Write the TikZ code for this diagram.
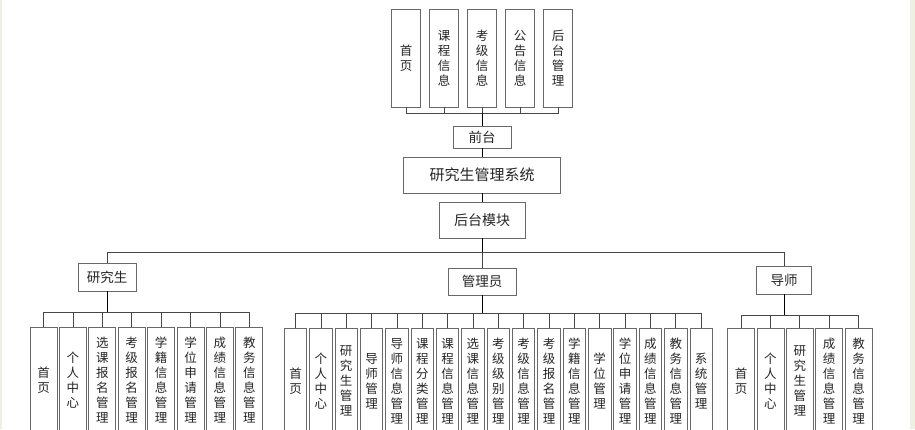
\documentclass[tikz,border=0pt]{standalone}
\usepackage{fontspec}
\setmainfont{Noto Sans CJK SC}
\usepackage{tikz}
\usetikzlibrary{positioning}
\definecolor{boxline}{RGB}{105,105,105}
\definecolor{lineclr}{RGB}{70,70,70}
\definecolor{edgeband}{RGB}{238,241,226}

\begin{document}
\begin{tikzpicture}[x=1pt,y=-1pt,
    box/.style={draw=boxline,line width=0.8pt,fill=white,inner sep=0pt,outer sep=0pt,text=black!85,font=\fontsize{13.5}{15}\selectfont},
    topleaf/.style={box,minimum width=29pt,minimum height=98pt,align=center,font=\fontsize{12.5}{15}\selectfont},
    leaf/.style={box,minimum height=106pt,align=center,font=\fontsize{12.5}{15}\selectfont},
    wideleaf/.style={leaf,minimum width=27pt},
    slimleaf/.style={leaf,minimum width=22.4pt},
    bus/.style={draw=lineclr,line width=0.7pt},
    stem/.style={draw=black,line width=1pt}]
      \clip (0,0) rectangle (915,429);
      \fill[edgeband] (910,0) rectangle (915,429);
      \fill[edgeband] (0,0) rectangle (2,429);
      % front end
      \node[topleaf] (f1) at (406,58) {首\\页};
      \node[topleaf,right=9pt of f1] (f2) {课\\程\\信\\息};
      \node[topleaf,right=9pt of f2] (f3) {考\\级\\信\\息};
      \node[topleaf,right=9pt of f3] (f4) {公\\告\\信\\息};
      \node[topleaf,right=9pt of f4] (f5) {后\\台\\管\\理};
      \node[box,minimum width=58pt,minimum height=22pt] (qt) at (482,137) {前台};
      \node[box,minimum width=157pt,minimum height=36pt,font=\fontsize{15}{15}\selectfont] (sys) at (482,175) {研究生管理系统};
      \node[box,minimum width=86pt,minimum height=36pt,font=\fontsize{14}{15}\selectfont] (ht) at (482,220) {后台模块};
      % roles
      \node[box,minimum width=58pt,minimum height=28pt] (stu) at (107,277) {研究生};
      \node[box,minimum width=68pt,minimum height=27pt] (adm) at (482,281.5) {管理员};
      \node[box,minimum width=55pt,minimum height=28pt] (tut) at (784,280) {导师};
      % student
      \node[wideleaf] (s1) at (43.5,380) {首\\页};
      \node[wideleaf,right=2.4pt of s1] (s2) {个\\人\\中\\心};
      \node[wideleaf,right=2.4pt of s2] (s3) {选\\课\\报\\名\\管\\理};
      \node[wideleaf,right=2.4pt of s3] (s4) {考\\级\\报\\名\\管\\理};
      \node[wideleaf,right=2.4pt of s4] (s5) {学\\籍\\信\\息\\管\\理};
      \node[wideleaf,right=2.4pt of s5] (s6) {学\\位\\申\\请\\管\\理};
      \node[wideleaf,right=2.4pt of s6] (s7) {成\\绩\\信\\息\\管\\理};
      \node[wideleaf,right=2.4pt of s7] (s8) {教\\务\\信\\息\\管\\理};
      % admin
      \node[slimleaf] (a1) at (295.5,381) {首\\页};
      \node[slimleaf,right=2.95pt of a1] (a2) {个\\人\\中\\心};
      \node[slimleaf,right=2.95pt of a2] (a3) {研\\究\\生\\管\\理};
      \node[slimleaf,right=2.95pt of a3] (a4) {导\\师\\管\\理};
      \node[slimleaf,right=2.95pt of a4] (a5) {导\\师\\信\\息\\管\\理};
      \node[slimleaf,right=2.95pt of a5] (a6) {课\\程\\分\\类\\管\\理};
      \node[slimleaf,right=2.95pt of a6] (a7) {课\\程\\信\\息\\管\\理};
      \node[slimleaf,right=2.95pt of a7] (a8) {选\\课\\信\\息\\管\\理};
      \node[slimleaf,right=2.95pt of a8] (a9) {考\\级\\级\\别\\管\\理};
      \node[slimleaf,right=2.95pt of a9] (a10) {考\\级\\信\\息\\管\\理};
      \node[slimleaf,right=2.95pt of a10] (a11) {考\\级\\报\\名\\管\\理};
      \node[slimleaf,right=2.95pt of a11] (a12) {学\\籍\\信\\息\\管\\理};
      \node[slimleaf,right=2.95pt of a12] (a13) {学\\位\\管\\理};
      \node[slimleaf,right=2.95pt of a13] (a14) {学\\位\\申\\请\\管\\理};
      \node[slimleaf,right=2.95pt of a14] (a15) {成\\绩\\信\\息\\管\\理};
      \node[slimleaf,right=2.95pt of a15] (a16) {教\\务\\信\\息\\管\\理};
      \node[slimleaf,right=2.95pt of a16] (a17) {系\\统\\管\\理};
      % tutor
      \node[wideleaf] (t1) at (741,381) {首\\页};
      \node[wideleaf,right=2.4pt of t1] (t2) {个\\人\\中\\心};
      \node[wideleaf,right=2.4pt of t2] (t3) {研\\究\\生\\管\\理};
      \node[wideleaf,right=2.4pt of t3] (t4) {成\\绩\\信\\息\\管\\理};
      \node[wideleaf,right=2.4pt of t4] (t5) {教\\务\\信\\息\\管\\理};
      % buses
      \coordinate (tb) at (482,113.3);
      \coordinate (mb) at (482,252);
      \coordinate (sb) at (107,312);
      \coordinate (ab) at (482,313.3);
      \coordinate (ub) at (784,315.7);
      \draw[bus] (f1.south) -- (f1.south |- tb) -- (f5.south |- tb) -- (f5.south);
      \draw[bus] (f2.south) -- (f2.south |- tb) (f3.south) -- (f3.south |- tb) (f4.south) -- (f4.south |- tb);
      \draw[stem] (qt.north |- tb) -- (qt.north);
      \draw[stem] (qt) -- (sys);
      \draw[stem] (sys) -- (ht);
      \draw[stem] (ht.south) -- (ht.south |- mb);
      \draw[bus] (stu.north) -- (stu.north |- mb) -- (tut.north |- mb) -- (tut.north);
      \draw[bus] (adm.north |- mb) -- (adm.north);
      \draw[stem] (stu.south) -- (stu.south |- sb);
      \draw[stem] (adm.south) -- (adm.south |- ab);
      \draw[stem] (tut.south) -- (tut.south |- ub);
      \draw[bus] (s1.north) -- (s1.north |- sb) -- (s8.north |- sb) -- (s8.north);
      \draw[bus] (s2.north) -- (s2.north |- sb) (s3.north) -- (s3.north |- sb) (s4.north) -- (s4.north |- sb)
        (s5.north) -- (s5.north |- sb) (s6.north) -- (s6.north |- sb) (s7.north) -- (s7.north |- sb);
      \draw[bus] (a1.north) -- (a1.north |- ab) -- (a17.north |- ab) -- (a17.north);
      \draw[bus] (a2.north) -- (a2.north |- ab) (a3.north) -- (a3.north |- ab) (a4.north) -- (a4.north |- ab)
        (a5.north) -- (a5.north |- ab) (a6.north) -- (a6.north |- ab) (a7.north) -- (a7.north |- ab)
        (a8.north) -- (a8.north |- ab) (a9.north) -- (a9.north |- ab) (a10.north) -- (a10.north |- ab)
        (a11.north) -- (a11.north |- ab) (a12.north) -- (a12.north |- ab) (a13.north) -- (a13.north |- ab)
        (a14.north) -- (a14.north |- ab) (a15.north) -- (a15.north |- ab) (a16.north) -- (a16.north |- ab);
      \draw[bus] (t1.north) -- (t1.north |- ub) -- (t5.north |- ub) -- (t5.north);
      \draw[bus] (t2.north) -- (t2.north |- ub) (t3.north) -- (t3.north |- ub) (t4.north) -- (t4.north |- ub);
    \end{tikzpicture}
\end{document}
